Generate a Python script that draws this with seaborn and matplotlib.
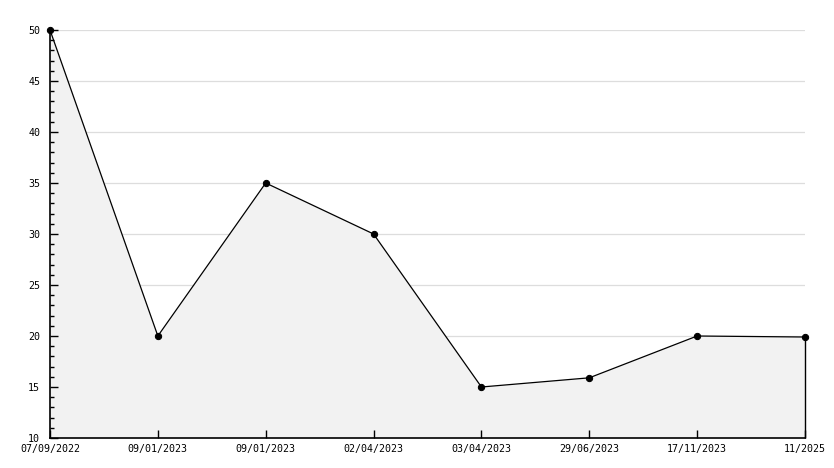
import seaborn as sns
import matplotlib.pyplot as plt
from matplotlib.ticker import MultipleLocator
import pandas as pd

dates = ['07/09/2022', '09/01/2023', '09/01/2023', '02/04/2023',
         '03/04/2023', '29/06/2023', '17/11/2023', '11/2025']
values = [50, 20, 35, 30, 15, 15.9, 20, 19.9]
y_min, y_max = 10, 50

df = pd.DataFrame({'pos': range(len(dates)), 'value': values})

sns.set_style('white')
plt.rcParams['font.family'] = ['DejaVu Sans Mono']

fig = plt.figure(figsize=(8.34, 4.68), dpi=100)
ax = fig.add_axes([50 / 834, 1 - 438 / 468, 755 / 834, 408 / 468])

# horizontal grid lines, sitting under the shaded area
for y in range(y_min + 5, y_max + 1, 5):
    ax.axhline(y, color='#dddddd', lw=0.9, zorder=0.1)

# shaded area under the line
ax.fill_between(df['pos'], df['value'], y_min, color='#f2f2f2', lw=0, zorder=0.2)
ax.vlines(df['pos'].iloc[-1], y_min, df['value'].iloc[-1], color='black', lw=1,
          zorder=2, clip_on=False)

sns.lineplot(data=df, x='pos', y='value', ax=ax, color='black', lw=0.9,
             marker='o', markersize=4.5, markeredgecolor='black', zorder=3,
             clip_on=False)

ax.set_xlim(0, len(dates) - 1)
ax.set_ylim(y_min, y_max)
ax.yaxis.set_major_locator(MultipleLocator(5))
ax.yaxis.set_minor_locator(MultipleLocator(1))
ax.set_xticks(df['pos'])
ax.set_xticklabels(dates)
ax.grid(False)

for side in ['top', 'right']:
    ax.spines[side].set_visible(False)
for side in ['left', 'bottom']:
    ax.spines[side].set_color('black')
    ax.spines[side].set_linewidth(1.2)

ax.tick_params(axis='y', which='major', direction='in', length=6, width=1,
               labelsize=7.2, pad=7, left=True, color='black', labelcolor='black')
ax.tick_params(axis='y', which='minor', direction='in', length=3, width=1,
               left=True, color='black')
ax.tick_params(axis='x', which='major', direction='in', length=6, width=1,
               labelsize=7.2, pad=4, bottom=True, color='black', labelcolor='black')
ax.set_xlabel('')
ax.set_ylabel('')

fig.savefig('out.png', dpi=100)
